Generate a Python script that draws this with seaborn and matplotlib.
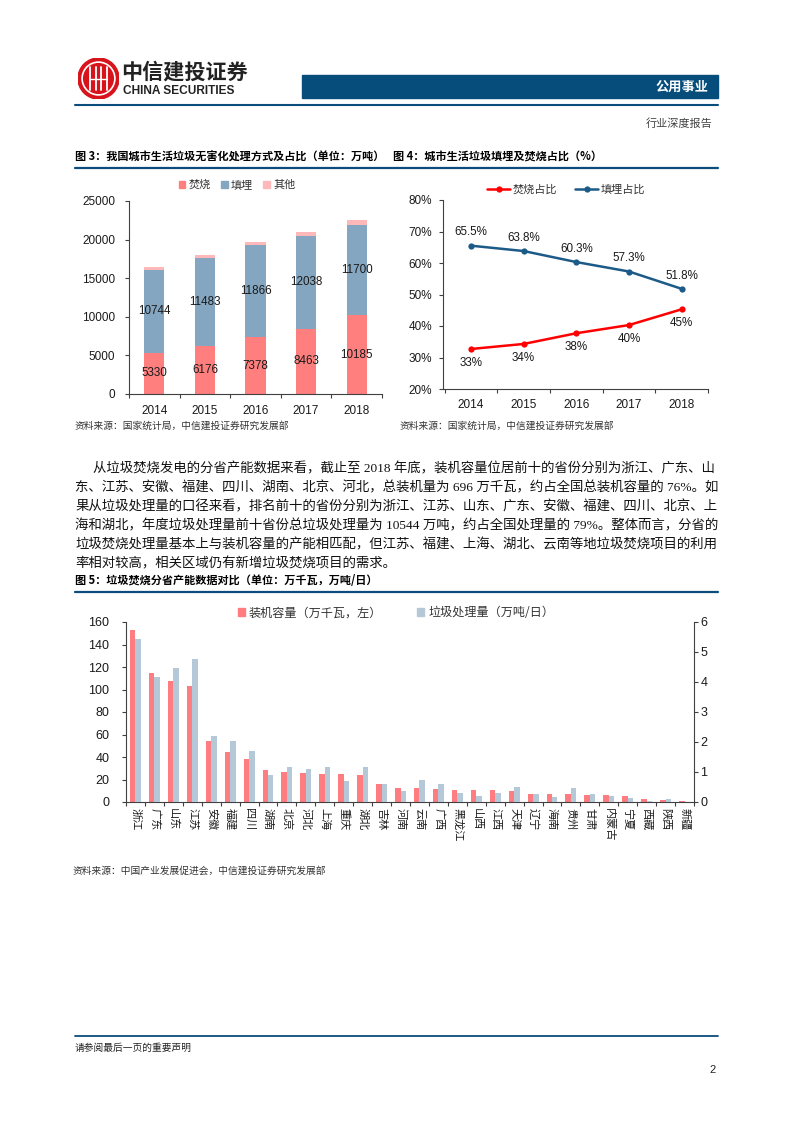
import numpy as np
import pandas as pd
import matplotlib
matplotlib.use("Agg")
import matplotlib.pyplot as plt
import seaborn as sns
from matplotlib.patches import Rectangle, Circle
from matplotlib.lines import Line2D

# ---------------- data ----------------
years = ['2014', '2015', '2016', '2017', '2018']
incineration = [5330, 6176, 7378, 8463, 10185]
landfill = [10744, 11483, 11866, 12038, 11700]
other = [320, 354, 430, 533, 680]

incin_pct = [32.7, 34.3, 37.7, 40.3, 45.3]
landfill_pct = [65.5, 63.8, 60.3, 57.3, 51.8]

provinces = ['浙江', '广东', '山东', '江苏', '安徽', '福建', '四川', '湖南', '北京', '河北',
             '上海', '重庆', '湖北', '吉林', '河南', '云南', '广西', '黑龙江', '山西', '江西',
             '天津', '辽宁', '海南', '贵州', '甘肃', '内蒙古', '宁夏', '西藏', '陕西', '新疆']
capacity = [153.2, 114.4, 107.3, 102.8, 54.2, 44.4, 38.2, 28.4, 26.7, 25.8,
            24.9, 24.9, 24.0, 16.0, 12.4, 12.4, 11.6, 10.7, 10.7, 10.7,
            9.8, 7.1, 7.1, 7.1, 6.2, 6.2, 5.3, 2.7, 1.8, 0.9]
treatment = [5.44, 4.18, 4.48, 4.78, 2.20, 2.03, 1.70, 0.90, 1.17, 1.10,
             1.17, 0.70, 1.17, 0.60, 0.37, 0.73, 0.60, 0.30, 0.20, 0.30,
             0.50, 0.27, 0.17, 0.47, 0.27, 0.20, 0.13, 0.03, 0.10, 0.01]

paragraph = [
    "从垃圾焚烧发电的分省产能数据来看，截止至 2018 年底，装机容量位居前十的省份分别为浙江、广东、山",
    "东、江苏、安徽、福建、四川、湖南、北京、河北，总装机量为 696 万千瓦，约占全国总装机容量的 76%。如",
    "果从垃圾处理量的口径来看，排名前十的省份分别为浙江、江苏、山东、广东、安徽、福建、四川、北京、上",
    "海和湖北，年度垃圾处理量前十省份总垃圾处理量为 10544 万吨，约占全国处理量的 79%。整体而言，分省的",
    "垃圾焚烧处理量基本上与装机容量的产能相匹配，但江苏、福建、上海、湖北、云南等地垃圾焚烧项目的利用",
    "率相对较高，相关区域仍有新增垃圾焚烧项目的需求。",
]

# ---------------- style ----------------
sns.set_theme(style="white")
plt.rcParams['font.family'] = ['Liberation Sans', 'Noto Sans CJK SC', 'DejaVu Sans']
plt.rcParams['axes.unicode_minus'] = False

CJK = ['Noto Sans CJK SC', 'DejaVu Sans']
SERIF_CJK = ['Liberation Serif', 'Noto Sans CJK SC']
NAVY = '#0A4C7A'
C_INC = '#FF7F7F'
C_LAND = '#84A6C0'
C_OTH = '#FFB8BA'
C_RED5 = '#FF7C80'
C_BLUE5 = '#B4C8D8'
SPINE = '#404040'

W, H = 793, 1122
fig = plt.figure(figsize=(W / 100, H / 100), dpi=100)
fig.patch.set_facecolor('white')


def fx(x):
    return x / W


def fy(y):
    return 1 - y / H


def hline(y, x0=75, x1=718, color=NAVY, lw=1.3):
    fig.add_artist(Line2D([fx(x0), fx(x1)], [fy(y), fy(y)], color=color, lw=lw))


def style_axes(ax):
    for s in ['top', 'right']:
        ax.spines[s].set_visible(False)
    for s in ['left', 'bottom']:
        ax.spines[s].set_color(SPINE)
        ax.spines[s].set_linewidth(0.8)
    ax.set_xlabel('')
    ax.set_ylabel('')


# ---------------- header ----------------
lax = fig.add_axes([fx(78), fy(99), fx(41), 41 / H])
lax.set_xlim(-1, 1)
lax.set_ylim(-1, 1)
lax.set_aspect('equal')
lax.axis('off')
lax.add_patch(Circle((0, 0), 1.0, color='#D7141C'))
lax.add_patch(Circle((0, 0), 0.80, fill=False, ec='white', lw=1.2))
for xv in [-0.42, -0.14, 0.14, 0.42]:
    lax.add_line(Line2D([xv, xv], [-0.55, 0.55], color='white', lw=1.3))
lax.add_line(Line2D([-0.42, 0.42], [0.0, 0.0], color='white', lw=1.0))

fig.text(fx(121), fy(72), '中信建投证券', family=CJK, fontsize=15.2, fontweight='bold',
         color='#222222', ha='left', va='center')
fig.text(fx(123), fy(91.5), 'CHINA SECURITIES', family=['Liberation Sans'], fontsize=8.6,
         fontweight='bold', color='#222222', ha='left', va='center')

fig.add_artist(Rectangle((fx(302), fy(98)), fx(718) - fx(302), 23 / H, color='#064D7B',
                         transform=fig.transFigure))
fig.text(fx(709), fy(87), '公用事业', family=CJK, fontsize=9.5, fontweight='bold',
         color='white', ha='right', va='center')
hline(105, lw=1.5)
fig.text(fx(712), fy(124), '行业深度报告', family=CJK, fontsize=8, color='#444444',
         ha='right', va='center')

# ---------------- titles ----------------
fig.text(fx(75), fy(157), '图 3：我国城市生活垃圾无害化处理方式及占比（单位：万吨）', family=CJK,
         fontsize=8, fontweight='bold', color='black', ha='left', va='center')
fig.text(fx(393), fy(157), '图 4：城市生活垃圾填埋及焚烧占比（%）', family=CJK,
         fontsize=8, fontweight='bold', color='black', ha='left', va='center')
hline(168, lw=1.6)

# ---------------- chart 3: stacked bars ----------------
ax3 = fig.add_axes([fx(129), fy(394), fx(382) - fx(129), 193 / H])
df3 = pd.DataFrame({'year': years, 'incin': incineration, 'landfill': landfill, 'other': other})
df3['lvl2'] = df3['incin'] + df3['landfill']
df3['lvl3'] = df3['lvl2'] + df3['other']
sns.barplot(data=df3, x='year', y='lvl3', color=C_OTH, width=0.4, saturation=1, linewidth=0, ax=ax3)
sns.barplot(data=df3, x='year', y='lvl2', color=C_LAND, width=0.4, saturation=1, linewidth=0, ax=ax3)
sns.barplot(data=df3, x='year', y='incin', color=C_INC, width=0.4, saturation=1, linewidth=0, ax=ax3)
for i, r in df3.iterrows():
    ax3.text(i, r['incin'] / 2, f"{r['incin']}", ha='center', va='center', fontsize=8.4, color='#1a1a1a')
    ax3.text(i, r['incin'] + r['landfill'] / 2, f"{r['landfill']}", ha='center', va='center',
             fontsize=8.4, color='#1a1a1a')
ax3.set_ylim(0, 25000)
ax3.set_xlim(-0.5, 4.5)
ax3.set_yticks(np.arange(0, 25001, 5000))
ax3.set_xticks(range(5))
ax3.set_xticklabels(years)
ax3.set_xticks(np.arange(-0.5, 5, 1), minor=True)
style_axes(ax3)
ax3.tick_params(axis='y', left=True, length=3, width=0.8, color=SPINE, pad=7, labelsize=8.5,
                labelcolor='#1a1a1a')
ax3.tick_params(axis='x', which='major', bottom=False, length=0, pad=8, labelsize=8.5,
                labelcolor='#1a1a1a')
ax3.tick_params(axis='x', which='minor', bottom=True, length=3, width=0.8, color=SPINE)
h3 = [Rectangle((0, 0), 1, 1, color=c) for c in [C_INC, C_LAND, C_OTH]]
fig.legend(h3, ['焚烧', '填埋', '其他'], loc='center', bbox_to_anchor=(fx(237), fy(185)),
           bbox_transform=fig.transFigure, ncol=3, frameon=False, prop={'family': CJK, 'size': 8},
           handlelength=0.6, handleheight=0.6, handletextpad=0.3, columnspacing=0.9,
           labelcolor='#333333')

# ---------------- chart 4: lines ----------------
ax4 = fig.add_axes([fx(443), fy(389), fx(708) - fx(443), 189 / H])
xpos = list(range(len(years)))
sns.lineplot(x=xpos, y=incin_pct, ax=ax4, color='#FF0000', marker='o', markersize=4.5,
             markeredgewidth=0, linewidth=1.8)
sns.lineplot(x=xpos, y=landfill_pct, ax=ax4, color='#1C5A87', marker='o', markersize=4.5,
             markeredgewidth=0, linewidth=1.8)
for i in xpos:
    ax4.text(i, landfill_pct[i] + 2.3, f"{landfill_pct[i]:.1f}%", ha='center', va='bottom',
             fontsize=8.4, color='#1a1a1a')
    ax4.text(i, incin_pct[i] - 2.6, f"{incin_pct[i]:.0f}%", ha='center', va='top',
             fontsize=8.4, color='#1a1a1a')
ax4.set_ylim(20, 80)
ax4.set_xlim(-0.53, 4.49)
ax4.set_yticks(np.arange(20, 81, 10))
ax4.set_yticklabels([f"{v}%" for v in range(20, 81, 10)])
ax4.set_xticks(xpos)
ax4.set_xticklabels(years)
ax4.set_xticks(np.arange(-0.5, 5, 1), minor=True)
style_axes(ax4)
ax4.tick_params(axis='y', left=True, length=3, width=0.8, color=SPINE, pad=5, labelsize=8.5,
                labelcolor='#1a1a1a')
ax4.tick_params(axis='x', which='major', bottom=False, length=0, pad=7, labelsize=8.5,
                labelcolor='#1a1a1a')
ax4.tick_params(axis='x', which='minor', bottom=True, length=3, width=0.8, color=SPINE)
h4 = [Line2D([0], [0], color='#FF0000', lw=1.8, marker='o', markersize=4.5, markeredgewidth=0),
      Line2D([0], [0], color='#1C5A87', lw=1.8, marker='o', markersize=4.5, markeredgewidth=0)]
fig.legend(h4, ['焚烧占比', '填埋占比'], loc='center', bbox_to_anchor=(fx(566), fy(190)),
           bbox_transform=fig.transFigure, ncol=2, frameon=False, prop={'family': CJK, 'size': 8},
           handlelength=2.1, handletextpad=0.2, columnspacing=1.6, labelcolor='#333333')

# sources
fig.text(fx(75), fy(426), '资料来源：国家统计局，中信建投证券研究发展部', family=CJK, fontsize=7,
         style='italic', color='#333333', ha='left', va='center')
fig.text(fx(400), fy(426), '资料来源：国家统计局，中信建投证券研究发展部', family=CJK, fontsize=7,
         style='italic', color='#333333', ha='left', va='center')

# ---------------- paragraph ----------------
for k, line in enumerate(paragraph):
    x0 = 93 if k == 0 else 75
    fig.text(fx(x0), fy(469 + k * 19.0), line, family=SERIF_CJK, fontsize=9.65, color='#111111',
             ha='left', va='center')

# ---------------- chart 5 ----------------
fig.text(fx(75), fy(581), '图 5：垃圾焚烧分省产能数据对比（单位：万千瓦，万吨/日）', family=CJK,
         fontsize=8, fontweight='bold', color='black', ha='left', va='center')
hline(592, lw=1.6)

ax5 = fig.add_axes([fx(126), fy(802), fx(694) - fx(126), 180 / H])
ax6 = ax5.twinx()
n = len(provinces)
series_order = ['装机容量（万千瓦，左）', '垃圾处理量（万吨/日）']
left_df = pd.DataFrame({'prov': provinces * 2,
                        'series': [series_order[0]] * n + [series_order[1]] * n,
                        'val': capacity + [0.0] * n})
right_df = pd.DataFrame({'prov': provinces * 2,
                         'series': [series_order[0]] * n + [series_order[1]] * n,
                         'val': [0.0] * n + treatment})
pal = {series_order[0]: C_RED5, series_order[1]: C_BLUE5}
sns.barplot(data=left_df, x='prov', y='val', hue='series', hue_order=series_order, palette=pal,
            width=0.58, saturation=1, linewidth=0, ax=ax5, legend=False)
sns.barplot(data=right_df, x='prov', y='val', hue='series', hue_order=series_order, palette=pal,
            width=0.58, saturation=1, linewidth=0, ax=ax6, legend=False)
ax5.set_ylim(0, 160)
ax6.set_ylim(0, 6)
ax5.set_xlim(-0.5, n - 0.5)
ax5.set_yticks(np.arange(0, 161, 20))
ax6.set_yticks(np.arange(0, 7, 1))
ax5.set_xticks(range(n))
ax5.set_xticklabels(provinces, family=CJK, rotation=-90, fontsize=8)
ax5.set_xticks(np.arange(-0.5, n, 1), minor=True)
style_axes(ax5)
for s in ['top', 'left', 'bottom']:
    ax6.spines[s].set_visible(False)
ax6.spines['right'].set_color(SPINE)
ax6.spines['right'].set_linewidth(0.8)
ax6.set_ylabel('')
ax6.set_xlabel('')
ax6.grid(False)
ax5.tick_params(axis='y', left=True, length=3, width=0.8, color=SPINE, pad=9, labelsize=9,
                labelcolor='#1a1a1a')
ax6.tick_params(axis='y', right=True, length=3, width=0.8, color=SPINE, pad=1.5, labelsize=9,
                labelcolor='#1a1a1a')
ax5.tick_params(axis='x', which='major', bottom=False, length=0, pad=4, labelcolor='#1a1a1a')
ax5.tick_params(axis='x', which='minor', bottom=True, length=3, width=0.8, color=SPINE)
for t in ax5.get_xticklabels():
    t.set_va('top')
    t.set_ha('center')
h5 = [Rectangle((0, 0), 1, 1, color=C_RED5), Rectangle((0, 0), 1, 1, color=C_BLUE5)]
fig.legend(h5, series_order, loc='center', bbox_to_anchor=(fx(396), fy(613)),
           bbox_transform=fig.transFigure, ncol=2, frameon=False, prop={'family': CJK, 'size': 8.7},
           handlelength=0.6, handleheight=0.6, handletextpad=0.3, columnspacing=2.9,
           labelcolor='#333333')

fig.text(fx(73), fy(871), '资料来源：中国产业发展促进会，中信建投证券研究发展部', family=CJK,
         fontsize=7, style='italic', color='#333333', ha='left', va='center')

# ---------------- footer ----------------
hline(1036, lw=1.3)
fig.text(fx(75), fy(1048), '请参阅最后一页的重要声明', family=CJK, fontsize=7, color='#222222',
         ha='left', va='center')
fig.text(fx(716), fy(1070), '2', family=['Liberation Sans'], fontsize=8, color='#222222',
         ha='right', va='center')

fig.savefig('out.png', dpi=100, facecolor='white')
